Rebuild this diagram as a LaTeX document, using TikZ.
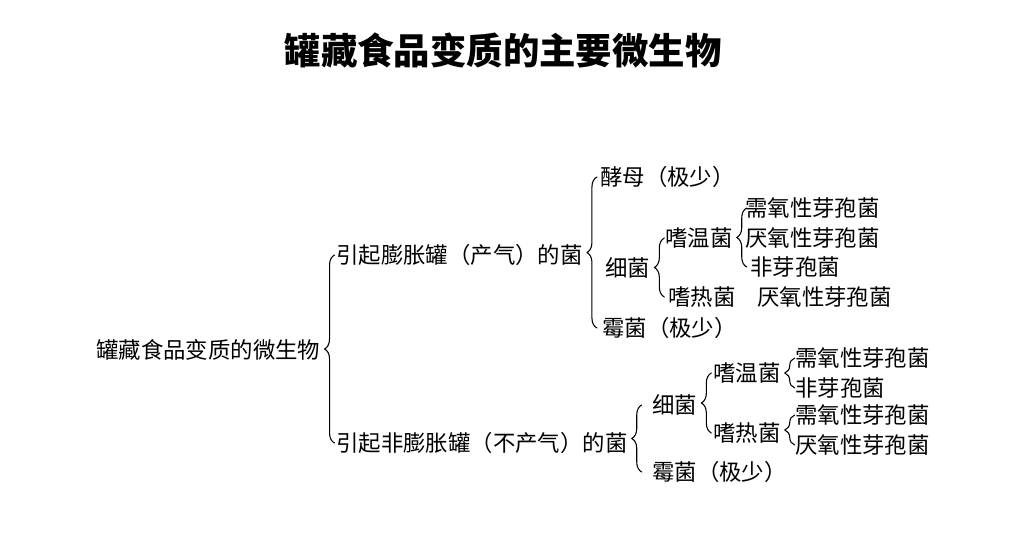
\documentclass[tikz,border=0pt]{standalone}
\usepackage{fontspec}
\newfontfamily\cjk{Noto Sans CJK SC}
\usetikzlibrary{decorations.pathreplacing,calc}
\begin{document}
\begin{tikzpicture}[x=0.75pt,y=-0.75pt,line join=round,line cap=round,
	every node/.style={inner sep=0pt,anchor=west,font=\cjk\fontsize{16.8}{18}\selectfont},
	br/.style={decorate,decoration={brace,amplitude=7.5pt},line width=0.8pt}]
	\useasboundingbox (0,0) rectangle (1013,548);
	%大括号: #1 上层, #2 最上项, #3 最下项
	\def\brc#1#2#3{\draw[br] ($(#1.east |- #3.center)+(14,0)$) -- ($(#1.east |- #2.center)+(14,0)$);}
	%标题
	\node[anchor=center,font=\cjk\bfseries\fontsize{27.3}{30}\selectfont] (title) at (503,50) {罐藏食品变质的主要微生物};
	%第一、二层
	\node (root) at (96,350) {罐藏食品变质的微生物};
	\node (gas) at (336,255) {引起膨胀罐（产气）的菌};
	\node (nogas) at (336,443) {引起非膨胀罐（不产气）的菌};
	%产气
	\node (yeast) at (600,177) {酵母（极少）};
	\node (bac) at (605,268) {细菌};
	\node (mold) at (602,328) {霉菌（极少）};
	\node (meso) at (665,238) {嗜温菌};
	\node (thermo) at (668,297) {嗜热菌};
	\node (m1) at (745,208) {需氧性芽孢菌};
	\node (m2) at (745,238) {厌氧性芽孢菌};
	\node (m3) at (750,267) {非芽孢菌};
	\node (t1) at (757,297) {厌氧性芽孢菌};
	%不产气
	\node (bacb) at (652,405) {细菌};
	\node (moldb) at (652,472) {霉菌（极少）};
	\node (mesob) at (713,373) {嗜温菌};
	\node (thermob) at (713,433) {嗜热菌};
	\node (mb1) at (795,358) {需氧性芽孢菌};
	\node (mb2) at (795,388) {非芽孢菌};
	\node (tb1) at (795,415) {需氧性芽孢菌};
	\node (tb2) at (795,445) {厌氧性芽孢菌};
	%括号
	\brc{root}{gas}{nogas}
	\brc{gas}{yeast}{mold}
	\brc{bac}{meso}{thermo}
	\brc{meso}{m1}{m3}
	\brc{nogas}{bacb}{moldb}
	\brc{bacb}{mesob}{thermob}
	\brc{mesob}{mb1}{mb2}
	\brc{thermob}{tb1}{tb2}
\end{tikzpicture}
\end{document}
